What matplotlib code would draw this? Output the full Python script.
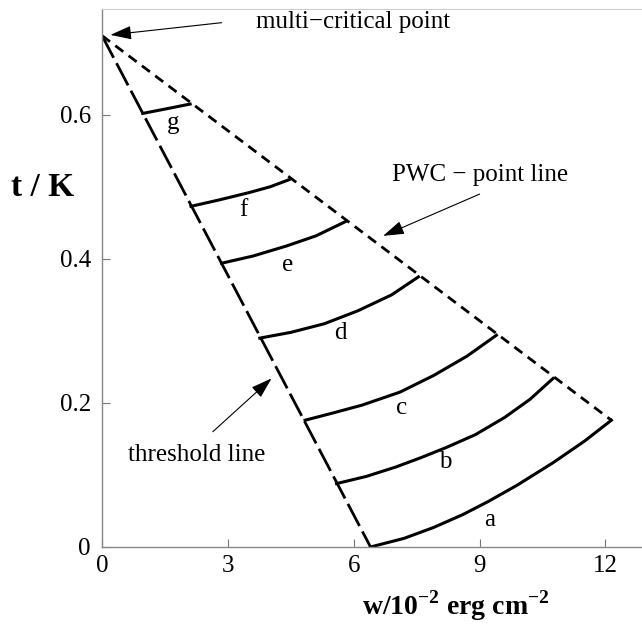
"""Phase diagram t vs w: threshold line, PWC-point line and curves a-g."""

import matplotlib

matplotlib.use("Agg")
import matplotlib.pyplot as plt

plt.rcParams["font.family"] = ["Liberation Serif", "DejaVu Serif"]
plt.rcParams["mathtext.fontset"] = "custom"
plt.rcParams["mathtext.rm"] = "Liberation Serif:bold"
plt.rcParams["mathtext.bf"] = "Liberation Serif:bold"

# multi-critical point and the two boundary lines
apex = (0.0, 0.71)
threshold_end = (6.4, 0.0)
pwc_end = (12.14, 0.176)

# curves (w, t)
curve_w = {
    "a": [6.4, 7.2, 7.9, 8.6, 9.2, 9.9, 10.75, 11.5, 12.14],
    "b": [5.59, 6.3, 7.0, 7.6, 8.2, 8.9, 9.6, 10.2, 10.75],
    "c": [4.84, 5.5, 6.2, 7.1, 7.9, 8.7, 9.40],
    "d": [3.76, 4.5, 5.3, 6.1, 6.9, 7.54],
    "e": [2.85, 3.6, 4.4, 5.1, 5.81],
    "f": [2.12, 2.8, 3.5, 4.0, 4.46],
    "g": [0.97, 1.5, 2.1],
}
curve_t = {
    "a": [0.0, 0.012, 0.027, 0.045, 0.063, 0.086, 0.117, 0.147, 0.176],
    "b": [0.088, 0.098, 0.111, 0.124, 0.138, 0.156, 0.180, 0.205, 0.234],
    "c": [0.176, 0.186, 0.197, 0.215, 0.238, 0.265, 0.294],
    "d": [0.290, 0.298, 0.310, 0.328, 0.350, 0.375],
    "e": [0.394, 0.404, 0.418, 0.432, 0.452],
    "f": [0.473, 0.482, 0.492, 0.500, 0.510],
    "g": [0.602, 0.608, 0.615],
}
label_pos = {
    "a": (9.24, 0.037),
    "b": (8.17, 0.118),
    "c": (7.14, 0.193),
    "d": (5.67, 0.297),
    "e": (4.43, 0.392),
    "f": (3.37, 0.468),
    "g": (1.70, 0.589),
}

x_ticks = [0, 3, 6, 9, 12]
y_ticks = [0, 0.2, 0.4, 0.6]
y_tick_labels = ["0", "0.2", "0.4", "0.6"]

fig = plt.figure(figsize=(6.42, 6.29), dpi=100)
ax = fig.add_axes([0.1589, 0.1304, 0.8411, 0.8553])

ax.plot([apex[0], threshold_end[0]], [apex[1], threshold_end[1]],
        color="black", lw=2.0, dashes=(9, 2.2))
ax.plot([apex[0], pwc_end[0]], [apex[1], pwc_end[1]],
        color="black", lw=2.0, dashes=(3.6, 2.4))

for key in curve_w:
    ax.plot(curve_w[key], curve_t[key], color="black", lw=2.2,
            solid_joinstyle="round")
    lx, ly = label_pos[key]
    ax.text(lx, ly, key, fontsize=18, ha="center", va="center")

arrow = dict(arrowstyle="-|>,head_length=1.3,head_width=0.42",
             color="black", lw=0.8, shrinkA=0, shrinkB=0)
ax.annotate("", xy=(0.2, 0.711), xytext=(2.85, 0.728), arrowprops=arrow)
ax.text(3.68, 0.729, "multi\u2212critical point", fontsize=18,
        ha="left", va="center")

ax.annotate("", xy=(6.7, 0.432), xytext=(9.0, 0.49), arrowprops=arrow)
ax.text(9.0, 0.516, "PWC \u2212 point line", fontsize=18,
        ha="center", va="center")

ax.annotate("", xy=(4.04, 0.234), xytext=(2.64, 0.160), arrowprops=arrow)
ax.text(0.62, 0.128, "threshold line", fontsize=18, ha="left", va="center")

ax.set_xlim(0, 12.87)
ax.set_ylim(0, 0.747)
ax.set_xticks(x_ticks)
ax.set_yticks(y_ticks)
ax.set_yticklabels(y_tick_labels)
ax.tick_params(direction="in", length=6, width=0.8, color="#777777",
               labelsize=18)
ax.tick_params(axis="x", pad=6)
ax.tick_params(axis="y", pad=8)

for side in ("left", "bottom"):
    ax.spines[side].set_color("#888888")
    ax.spines[side].set_linewidth(1.0)
ax.spines["top"].set_color("#cccccc")
ax.spines["top"].set_linewidth(0.8)
ax.spines["right"].set_visible(False)

fig.text(43 / 642, 1 - 187 / 629, "t / K", fontsize=24, fontweight="bold",
         ha="center", va="center")
fig.text(456 / 642, 1 - 606 / 629, "w/10$^{-2}$ erg cm$^{-2}$", fontsize=20,
         fontweight="bold", ha="center", va="center")

fig.savefig("out.png", dpi=100)
